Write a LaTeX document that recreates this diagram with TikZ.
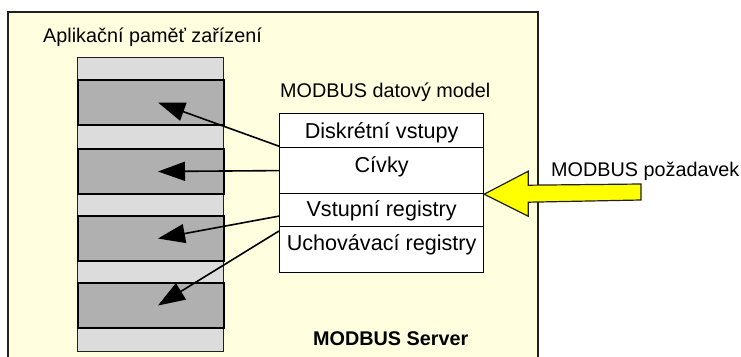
\documentclass[tikz,border=0pt]{standalone}
\usepackage{fontspec}
\setmainfont{Liberation Sans}
\usetikzlibrary{arrows.meta,calc}
\definecolor{bgyellow}{HTML}{FFFFDF}
\definecolor{lightband}{HTML}{DCDCDC}
\definecolor{darkband}{HTML}{B0B0B0}
\definecolor{arrowyellow}{HTML}{FFFF00}
\definecolor{edgegrey}{HTML}{202020}
\tikzset{
  txt/.style={font=\fontsize{19.8}{23}\selectfont, inner sep=0pt, text=black, anchor=base west},
  rowtxt/.style={font=\fontsize{21.6}{25}\selectfont, inner sep=0pt, text=black, anchor=base},
  lightbox/.style={draw=edgegrey, line width=1pt, fill=lightband, minimum width=146pt, minimum height=24pt, inner sep=0pt, anchor=north west},
  darkbox/.style={draw=black, line width=2pt, fill=darkband, minimum width=146pt, minimum height=45pt, inner sep=0pt, anchor=north west},
  rowbox/.style={draw=black, line width=1.2pt, fill=white, minimum width=204pt, inner sep=0pt, anchor=north west},
  ptr/.style={line width=1.6pt, -{Triangle[length=27pt,width=19pt]}},
}
\begin{document}
\begin{tikzpicture}[x=1pt,y=-1pt]
\useasboundingbox (0,0) rectangle (741,356);
\begin{scope}
\clip (0,0) rectangle (741,356);
\draw[fill=bgyellow, draw=edgegrey, line width=1.5pt] (8,12) rectangle (538,372);
\end{scope}
% memory column
\node[lightbox, minimum height=22pt] (l0) at (77,57) {};
\node[lightbox] (l1) at (77,124) {};
\node[lightbox] (l2) at (77,192) {};
\node[lightbox] (l3) at (77,260) {};
\node[lightbox] (l4) at (77,327) {};
\node[darkbox] (m1) at (77,79) {};
\node[darkbox] (m2) at (77,148) {};
\node[darkbox] (m3) at (77,215) {};
\node[darkbox] (m4) at (77,282) {};
% labels
\node[txt] (apl) at (43,42) {Aplikační paměť zařízení};
\node[txt] (dm) at (280,97) {MODBUS datový model};
\node[txt] (req) at (551,176) {MODBUS požadavek};
\node[txt, font=\fontsize{19.8}{23}\selectfont\bfseries] (srv) at (313,345) {MODBUS Server};
% data model rows
\node[rowbox, minimum height=34pt] (r1) at (279,113) {};
\node[rowbox, minimum height=46pt] (r2) at (279,147) {};
\node[rowbox, minimum height=33pt] (r3) at (279,193) {};
\node[rowbox, minimum height=46pt] (r4) at (279,226) {};
\node[rowtxt] (t1) at ($(r1.north)+(0,25)$) {Diskrétní vstupy};
\node[rowtxt] (t2) at ($(r2.north)+(0,25)$) {Cívky};
\node[rowtxt] (t3) at ($(r3.north)+(0,23.5)$) {Vstupní registry};
\node[rowtxt] (t4) at ($(r4.north)+(0,24)$) {Uchovávací registry};
% pointers
\draw[ptr] ($(r1.south west)+(0,-2)$) -- ($(m1.center)+(7,0)$);
\draw[ptr] (r2.west) -- ($(m2.center)+(7,0)$);
\draw[ptr] ($(r3.west)+(0,6)$) -- ($(m3.center)+(7,0)$);
\draw[ptr] ($(r4.north west)+(0,5)$) -- ($(m4.center)+(7,0)$);
% request arrow
\coordinate (tip) at (r2.south east);
\coordinate (tail) at (641,192);
\draw[fill=arrowyellow, draw=edgegrey, line width=1.2pt, line join=miter]
  (tip) -- ++(44,-23) -- ++(0,14) -- ($(tail)+(0,-8)$) -- ($(tail)+(0,8)$)
  -- ($(tip)+(44,8)$) -- ++(0,14) -- cycle;
\end{tikzpicture}
\end{document}
